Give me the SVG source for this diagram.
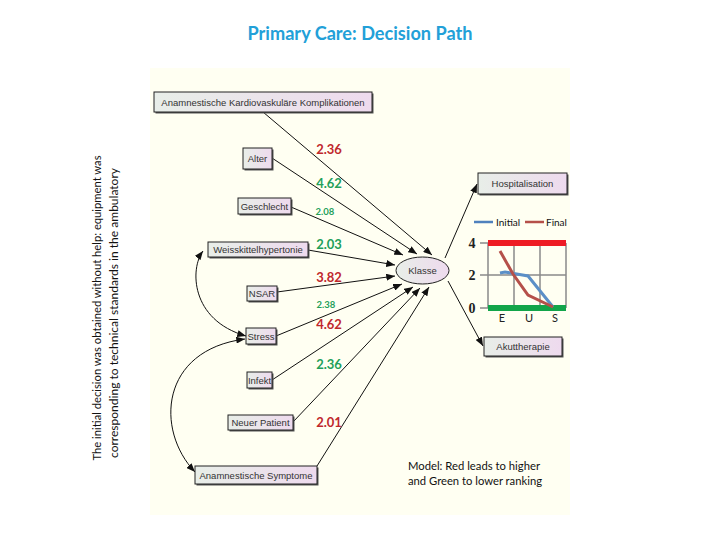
<svg xmlns="http://www.w3.org/2000/svg" width="720" height="540" viewBox="0 0 720 540">
<defs>
<linearGradient id="boxfill" x1="0" y1="0" x2="1" y2="0">
<stop offset="0" stop-color="#e8eee8"/>
<stop offset="1" stop-color="#eedaee"/>
</linearGradient>
<marker id="ah" viewBox="0 0 10 8" refX="10" refY="4" markerWidth="9" markerHeight="7" markerUnits="userSpaceOnUse" orient="auto-start-reverse">
<path d="M0,0 L10,4 L0,8 Z" fill="#111"/>
</marker>
<style>
.box{fill:url(#boxfill);stroke:#222;stroke-width:1}
.shadow{fill:#555}
.nt{font-family:"Liberation Sans",Arial,sans-serif;font-size:9.5px;fill:#333;text-anchor:middle}
.con{fill:none;stroke:#111;stroke-width:1}
.lb{font-family:Lato,"Open Sans",sans-serif;font-weight:bold;font-size:13px;text-anchor:middle}
.lbs{font-family:Lato,"Open Sans",sans-serif;font-weight:bold;font-size:9.5px;text-anchor:middle}
.red{fill:#c0282d}
.green{fill:#23a05a}
.grid{stroke:#8a8a8a;stroke-width:1.5}
.ax{font-family:"Liberation Serif",serif;font-weight:bold;font-size:14px;fill:#222;text-anchor:middle}
.cat{font-family:Lato,"Open Sans",sans-serif;font-size:11px;fill:#222;text-anchor:middle}
.txt{font-family:Lato,"Open Sans",sans-serif;fill:#111}
</style>
</defs>
<rect x="0" y="0" width="720" height="540" fill="#ffffff"/>
<rect x="150" y="68" width="420" height="447" fill="#fffff2"/>
<text x="360" y="40" font-family="Lato,'Open Sans',sans-serif" font-weight="bold" font-size="18" fill="#22a0d8" text-anchor="middle" textLength="225" lengthAdjust="spacingAndGlyphs">Primary Care: Decision Path</text>
<g transform="translate(101,308) rotate(-90)">
<text class="txt" x="0" y="0" font-size="10.5" text-anchor="middle" textLength="305" lengthAdjust="spacingAndGlyphs">The initial decision was obtained without help: equipment was</text>
</g>
<g transform="translate(118,313) rotate(-90)">
<text class="txt" x="0" y="0" font-size="10.5" text-anchor="middle" textLength="290" lengthAdjust="spacingAndGlyphs">corresponding to technical standards in the ambulatory</text>
</g>
<g id="connectors">
<line class="con" x1="263" y1="112" x2="432" y2="255" marker-end="url(#ah)"/>
<line class="con" x1="272" y1="158" x2="417" y2="254" marker-end="url(#ah)"/>
<line class="con" x1="291" y1="207" x2="403" y2="255" marker-end="url(#ah)"/>
<line class="con" x1="308" y1="250" x2="395" y2="265" marker-end="url(#ah)"/>
<line class="con" x1="277" y1="292" x2="395" y2="276" marker-end="url(#ah)"/>
<line class="con" x1="276" y1="336" x2="402" y2="284" marker-end="url(#ah)"/>
<line class="con" x1="272" y1="380" x2="413" y2="287" marker-end="url(#ah)"/>
<line class="con" x1="293" y1="422" x2="420" y2="288" marker-end="url(#ah)"/>
<line class="con" x1="317" y1="466" x2="429" y2="287" marker-end="url(#ah)"/>
<line class="con" x1="445" y1="258" x2="477" y2="184" marker-end="url(#ah)"/>
<line class="con" x1="448" y1="281" x2="483" y2="346" marker-end="url(#ah)"/>
<path class="con" d="M203,251 C190,268 190,320 246,336" marker-start="url(#ah)" marker-end="url(#ah)"/>
<path class="con" d="M245,339 C160,350 155,430 195,472" marker-start="url(#ah)" marker-end="url(#ah)"/>
</g>
<g id="n-komplikationen"><rect class="shadow" x="155.5" y="93.5" width="218" height="20"/><rect class="box" x="154" y="92" width="218" height="20"/><text class="nt" x="263" y="105.5">Anamnestische Kardiovaskuläre Komplikationen</text></g>
<g id="n-alter"><rect class="shadow" x="244.5" y="149.5" width="29" height="21"/><rect class="box" x="243" y="148" width="29" height="21"/><text class="nt" x="257.5" y="162">Alter</text></g>
<g id="n-geschlecht"><rect class="shadow" x="239.5" y="199.5" width="53" height="16"/><rect class="box" x="238" y="198" width="53" height="16"/><text class="nt" x="264.5" y="209.5">Geschlecht</text></g>
<g id="n-weisskittel"><rect class="shadow" x="209.5" y="243.5" width="100" height="15"/><rect class="box" x="208" y="242" width="100" height="15"/><text class="nt" x="258" y="253">Weisskittelhypertonie</text></g>
<g id="n-nsar"><rect class="shadow" x="248.5" y="287.5" width="30" height="15"/><rect class="box" x="247" y="286" width="30" height="15"/><text class="nt" x="262" y="297">NSAR</text></g>
<g id="n-stress"><rect class="shadow" x="247.5" y="329.5" width="30" height="16"/><rect class="box" x="246" y="328" width="30" height="16"/><text class="nt" x="261" y="339.5">Stress</text></g>
<g id="n-infekt"><rect class="shadow" x="248.5" y="373.5" width="25" height="16"/><rect class="box" x="247" y="372" width="25" height="16"/><text class="nt" x="259.5" y="383.5">Infekt</text></g>
<g id="n-neuer"><rect class="shadow" x="229.5" y="416.5" width="65" height="15"/><rect class="box" x="228" y="415" width="65" height="15"/><text class="nt" x="260.5" y="426">Neuer Patient</text></g>
<g id="n-symptome"><rect class="shadow" x="196.5" y="467.5" width="122" height="18"/><rect class="box" x="195" y="466" width="122" height="18"/><text class="nt" x="256" y="478.5">Anamnestische Symptome</text></g>
<g id="n-hosp"><rect class="shadow" x="479.5" y="174.5" width="89" height="21"/><rect class="box" x="478" y="173" width="89" height="21"/><text class="nt" x="522.5" y="187">Hospitalisation</text></g>
<g id="n-akut"><rect class="shadow" x="485.5" y="338.5" width="78" height="19"/><rect class="box" x="484" y="337" width="78" height="19"/><text class="nt" x="523" y="350">Akuttherapie</text></g>
<g id="n-klasse"><ellipse cx="422.5" cy="270.5" rx="26.5" ry="13.5" fill="url(#boxfill)" stroke="#222" stroke-width="1"/><text class="nt" x="422.5" y="274">Klasse</text></g>
<g id="labels">
<text class="lb red" x="329" y="154">2.36</text>
<text class="lb green" x="329" y="188">4.62</text>
<text class="lbs green" x="325" y="215">2.08</text>
<text class="lb green" x="329" y="249">2.03</text>
<text class="lb red" x="329" y="282">3.82</text>
<text class="lbs green" x="326" y="308">2.38</text>
<text class="lb red" x="329" y="329">4.62</text>
<text class="lb green" x="329" y="369">2.36</text>
<text class="lb red" x="329" y="427">2.01</text>
</g>
<g id="chart">
<line x1="474" y1="222" x2="493" y2="222" stroke="#4f81bd" stroke-width="2.5"/>
<text class="txt" x="496" y="225.5" font-size="10">Initial</text>
<line x1="525" y1="222" x2="544" y2="222" stroke="#b5504a" stroke-width="2.5"/>
<text class="txt" x="546" y="225.5" font-size="10">Final</text>
<line class="grid" x1="488" y1="243" x2="488" y2="308"/>
<line class="grid" x1="514" y1="243" x2="514" y2="308"/>
<line class="grid" x1="540" y1="243" x2="540" y2="308"/>
<line class="grid" x1="566" y1="243" x2="566" y2="308"/>
<line class="grid" x1="480" y1="275" x2="566" y2="275"/>
<line class="grid" x1="480" y1="243" x2="488" y2="243"/>
<line class="grid" x1="480" y1="308" x2="488" y2="308"/>
<rect x="488" y="240" width="78" height="6" fill="#ee1c24"/>
<rect x="488" y="305" width="78" height="6" fill="#12a54a"/>
<polyline points="500,273 505,272 528,276 553,307" fill="none" stroke="#5b8fc7" stroke-width="3"/>
<polyline points="500,251 513,274 528,295 553,307" fill="none" stroke="#b5504a" stroke-width="3"/>
<text class="ax" x="472" y="248">4</text>
<text class="ax" x="472" y="280">2</text>
<text class="ax" x="472" y="313">0</text>
<text class="cat" x="502" y="322">E</text>
<text class="cat" x="529" y="322">U</text>
<text class="cat" x="555" y="322">S</text>
</g>
<text class="txt" x="408" y="470" font-size="11.5" textLength="132" lengthAdjust="spacingAndGlyphs">Model: Red leads to higher</text>
<text class="txt" x="408" y="485" font-size="11.5" textLength="134" lengthAdjust="spacingAndGlyphs">and Green to lower ranking</text>
</svg>
